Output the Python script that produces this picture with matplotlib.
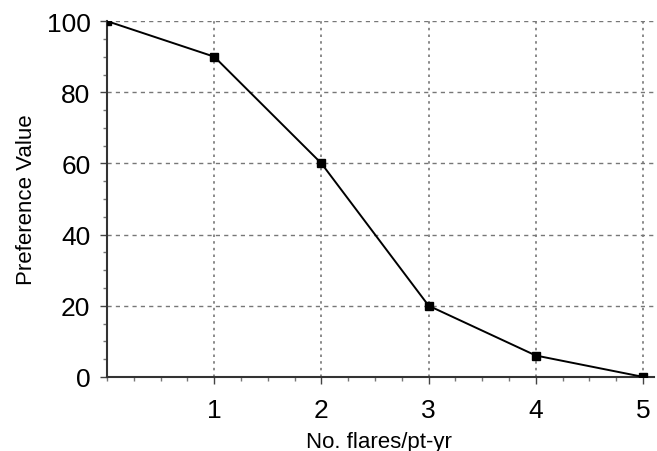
import matplotlib
matplotlib.use("Agg")
import matplotlib.pyplot as plt
from matplotlib.ticker import MultipleLocator

plt.rcParams["font.family"] = ["Liberation Sans", "DejaVu Sans"]

flares = [0, 1, 2, 3, 4, 5]
pref = [100, 90, 60, 20, 6, 0]
x_ticks = [1, 2, 3, 4, 5]
y_ticks = [0, 20, 40, 60, 80, 100]

fig = plt.figure(figsize=(6.57, 4.52), dpi=100)
ax = fig.add_axes([0.163, 0.164, 0.832, 0.787])

ax.plot(flares, pref, color="black", lw=1.4, marker="s", ms=6,
        markerfacecolor="black", zorder=3)

ax.set_xlim(0, 5.1)
ax.set_ylim(0, 100)
ax.set_xticks(x_ticks)
ax.set_yticks(y_ticks)
ax.xaxis.set_minor_locator(MultipleLocator(0.25))
ax.yaxis.set_minor_locator(MultipleLocator(5))
ax.tick_params(axis="both", which="major", labelsize=19, length=5, width=1, color="#444444")
ax.tick_params(axis="x", which="major", pad=10)
ax.tick_params(axis="y", which="major", pad=7)
ax.tick_params(axis="both", which="minor", length=3, width=1, color="#777777")

# horizontal grid dashed, vertical grid dotted
for y in y_ticks[1:]:
    ax.axhline(y, color="#777777", lw=1, ls=(0, (3, 3)), zorder=1)
for x in x_ticks:
    ax.axvline(x, color="#777777", lw=1.2, ls=(0, (1.5, 2.5)), zorder=1)

for sp in ("top", "right"):
    ax.spines[sp].set_visible(False)
for sp in ("left", "bottom"):
    ax.spines[sp].set_linewidth(1.5)
    ax.spines[sp].set_color("#333333")

ax.set_xlabel("No. flares/pt-yr", fontsize=16)
ax.set_ylabel("Preference Value", fontsize=16)
ax.xaxis.set_label_coords(0.497, -0.152)
ax.yaxis.set_label_coords(-0.128, 0.5)

fig.savefig("out.png", dpi=100)
